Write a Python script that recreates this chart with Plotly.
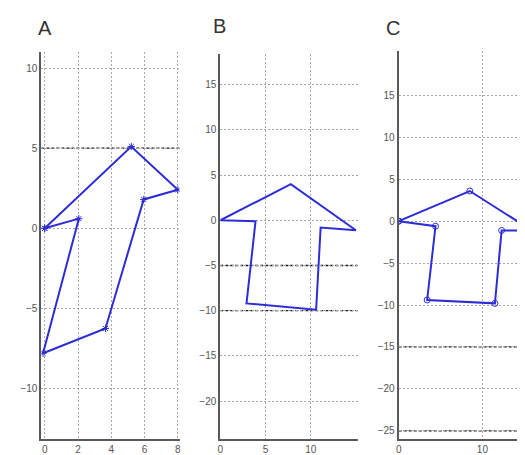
import plotly.graph_objects as go

# ---- data ----
a_x = [0.0, 5.2, 8.0, 5.95, 3.65, -0.1, 2.05, 0.0]
a_y = [0.0, 5.1, 2.4, 1.8, -6.25, -7.8, 0.6, 0.0]

b_x = [0.0, 7.8, 15.0, 11.1, 10.6, 2.9, 3.9, 0.0]
b_y = [0.0, 4.0, -1.1, -0.8, -9.9, -9.2, -0.1, 0.0]

c_x = [0.0, 8.5, 15.9, 12.3, 11.5, 3.4, 4.4, 0.0]
c_y = [0.0, 3.6, -1.1, -1.1, -9.8, -9.4, -0.6, 0.0]

a_xticks = [0, 2, 4, 6, 8]
a_yticks = [-10, -5, 0, 5, 10]
b_xticks = [0, 5, 10]
b_yticks = [-20, -15, -10, -5, 0, 5, 10, 15]
c_xticks = [0, 10]
c_yticks = [-25, -20, -15, -10, -5, 0, 5, 10, 15]

a_dark = [5]
b_dark = [-5, -10]
c_dark = [-15, -25]

panel_labels = ["A", "B", "C"]

BLUE = "rgb(45,45,215)"
W, H = 525, 455

fig = go.Figure()
fig.add_trace(go.Scatter(x=a_x, y=a_y, mode="lines+markers", xaxis="x", yaxis="y",
                         line=dict(color=BLUE, width=2),
                         marker=dict(symbol="asterisk-open", size=6, color=BLUE, line=dict(width=1, color=BLUE))))
fig.add_trace(go.Scatter(x=b_x, y=b_y, mode="lines", xaxis="x2", yaxis="y2",
                         line=dict(color=BLUE, width=2)))
fig.add_trace(go.Scatter(x=c_x, y=c_y, mode="lines+markers", xaxis="x3", yaxis="y3",
                         line=dict(color=BLUE, width=2),
                         marker=dict(symbol="circle-open", size=6, color=BLUE, line=dict(width=1, color=BLUE))))

def px_dom_x(a, b):
    return [a / W, b / W]

def px_dom_y(top, bottom):
    return [(H - bottom) / H, (H - top) / H]

axis_common = dict(showline=True, linecolor="#5a5a5a", linewidth=2, mirror=False,
                   zeroline=False, showgrid=True, gridcolor="#a8a8a8", gridwidth=1,
                   griddash="2px,2px", ticks="", automargin=False,
                   tickfont=dict(family="Liberation Sans, Arial", size=10, color="#555"))

fig.update_layout(
    width=W, height=H, autosize=False,
    margin=dict(l=0, r=0, t=0, b=0, pad=0),
    paper_bgcolor="white", plot_bgcolor="white",
    showlegend=False,
    xaxis=dict(domain=px_dom_x(33.4, 171.5), range=[-0.2, 8.1], tickvals=a_xticks,
               anchor="y", **axis_common),
    yaxis=dict(domain=px_dom_y(44, 431), range=[-13.15, 11.0], tickvals=a_yticks,
               anchor="x", **axis_common),
    xaxis2=dict(domain=px_dom_x(212.3, 349.7), range=[0, 15.2], tickvals=b_xticks,
                anchor="y2", **axis_common),
    yaxis2=dict(domain=px_dom_y(46, 431), range=[-24.2, 18.4], tickvals=b_yticks,
                anchor="x2", **axis_common),
    xaxis3=dict(domain=px_dom_x(390.7, 525), range=[0, 16.05], tickvals=c_xticks,
                anchor="y3", **axis_common),
    yaxis3=dict(domain=px_dom_y(43, 431), range=[-25.98, 20.3], tickvals=c_yticks,
                anchor="x3", **axis_common),
)

shapes = []
for xa, ya, vals in [("x", "y", a_dark), ("x2", "y2", b_dark), ("x3", "y3", c_dark)]:
    for v in vals:
        shapes.append(dict(type="line", xref=f"{xa} domain", yref=ya, x0=0, x1=1, y0=v, y1=v,
                           line=dict(color="#1a1a1a", width=1.3, dash="3px,2px"), layer="below"))
fig.update_layout(shapes=shapes)

label_pos = [(37, 20), (211, 18), (385, 20)]
for lab, (px, py) in zip(panel_labels, label_pos):
    fig.add_annotation(text=lab, x=px / W, y=1 - py / H, xref="paper", yref="paper",
                       showarrow=False, xanchor="center", yanchor="middle",
                       font=dict(family="Liberation Sans, Arial", size=20, color="#333"))

fig.write_html("out.html")
